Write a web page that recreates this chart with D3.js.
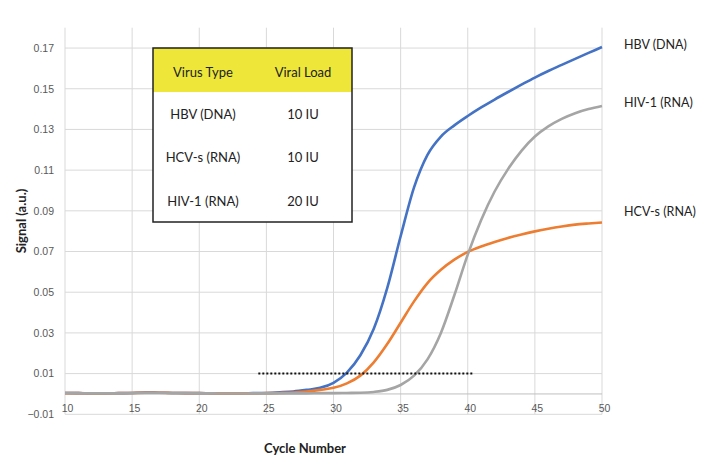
<!DOCTYPE html>
<html>
<head>
<meta charset="utf-8">
<script src="https://cdn.jsdelivr.net/npm/d3@7"></script>
<style>
	body { margin: 0; background: #fff; }
	svg { display: block; font-family: Lato, "Open Sans", sans-serif; }
</style>
</head>
<body>
<div id="chart"></div>
<script>
// Cycle numbers (x) and signal per virus (y)
const cycles = d3.range(10, 51);

const hbvSignal = [
	0.0005, 0.0004, 0.0003, 0.0003, 0.0004, 0.0005, 0.0007, 0.0006, 0.0005, 0.0004,
	0.0004, 0.0003, 0.0003, 0.0003, 0.0004, 0.0005, 0.0008, 0.0012, 0.0020, 0.0030,
	0.0055, 0.0105, 0.0190, 0.0320, 0.0520, 0.0775, 0.1015, 0.1175, 0.1265, 0.1320,
	0.1366, 0.1408, 0.1447, 0.1484, 0.1520, 0.1555, 0.1587, 0.1617, 0.1647, 0.1676,
	0.1705
];
const hcvSignal = [
	0.0004, 0.0004, 0.0003, 0.0003, 0.0004, 0.0005, 0.0006, 0.0006, 0.0005, 0.0004,
	0.0004, 0.0003, 0.0003, 0.0003, 0.0003, 0.0004, 0.0005, 0.0007, 0.0012, 0.0020,
	0.0030, 0.0052, 0.0090, 0.0155, 0.0245, 0.0350, 0.0455, 0.0545, 0.0610, 0.0660,
	0.0698, 0.0725, 0.0747, 0.0767, 0.0784, 0.0799, 0.0812, 0.0823, 0.0832, 0.0838,
	0.0843
];
const hivSignal = [
	0.0005, 0.0004, 0.0003, 0.0003, 0.0003, 0.0004, 0.0005, 0.0005, 0.0004, 0.0004,
	0.0003, 0.0003, 0.0002, 0.0002, 0.0003, 0.0003, 0.0003, 0.0003, 0.0003, 0.0004,
	0.0004, 0.0005, 0.0006, 0.0010, 0.0020, 0.0044, 0.0090, 0.0170, 0.0300, 0.0485,
	0.0685, 0.0855, 0.0995, 0.1105, 0.1195, 0.1265, 0.1315, 0.1352, 0.1380, 0.1400,
	0.1415
];

const seriesNames = ["HBV (DNA)", "HCV-s (RNA)", "HIV-1 (RNA)"];
const seriesColors = ["#4472c4", "#ed7d31", "#a5a5a5"];

// threshold line (cycle range, signal level)
const thresholdCycles = [24.4, 40.4];
const thresholdValue = 0.01;

// axis ticks
const xTicks = [10, 15, 20, 25, 30, 35, 40, 45, 50];
const yTicks = [-0.01, 0.01, 0.03, 0.05, 0.07, 0.09, 0.11, 0.13, 0.15, 0.17];

// inset table
const tableHeader = ["Virus Type", "Viral Load"];
const tableRows = [
	["HBV (DNA)", "10 IU"],
	["HCV-s (RNA)", "10 IU"],
	["HIV-1 (RNA)", "20 IU"]
];

const width = 710, height = 473;

const svg = d3.select("#chart").append("svg")
	.attr("width", width)
	.attr("height", height);

const x = d3.scaleLinear().domain([10, 50]).range([65, 602]);
const y = d3.scaleLinear().domain([-0.01, 0.18]).range([414.3, 27.7]);

// Gridlines
svg.append("g")
	.selectAll("line")
	.data(xTicks)
	.join("line")
	.attr("x1", d => x(d)).attr("x2", d => x(d))
	.attr("y1", y(0.18)).attr("y2", y(-0.01))
	.attr("stroke", "#d9d9d9")
	.attr("stroke-width", 1);

svg.append("g")
	.selectAll("line")
	.data(yTicks)
	.join("line")
	.attr("x1", x(10)).attr("x2", x(50))
	.attr("y1", d => y(d)).attr("y2", d => y(d))
	.attr("stroke", "#d9d9d9")
	.attr("stroke-width", 1);

// zero line
svg.append("line")
	.attr("x1", x(10)).attr("x2", x(50))
	.attr("y1", y(0)).attr("y2", y(0))
	.attr("stroke", "#bfbfbf")
	.attr("stroke-width", 1);

// Axes (labels only, Excel style)
const yAxis = svg.append("g")
	.attr("transform", `translate(${x(10) - 8},0)`)
	.call(d3.axisLeft(y).tickValues(yTicks).tickSize(0).tickFormat(d3.format(".2f")));
yAxis.select(".domain").remove();
yAxis.selectAll("text")
	.attr("fill", "#595959")
	.style("font-size", "10.5px");

const xAxis = svg.append("g")
	.attr("transform", `translate(2,${y(0) + 8})`)
	.call(d3.axisBottom(x).tickValues(xTicks).tickSize(0));
xAxis.select(".domain").remove();
xAxis.selectAll("text")
	.attr("fill", "#595959")
	.style("font-size", "10.5px");

// Curves
const line = d3.line()
	.x((d, i) => x(cycles[i]))
	.y(d => y(d))
	.curve(d3.curveMonotoneX);

svg.append("g")
	.selectAll("path")
	.data([hbvSignal, hcvSignal, hivSignal])
	.join("path")
	.attr("d", line)
	.attr("fill", "none")
	.attr("stroke", (d, i) => seriesColors[i])
	.attr("stroke-width", 2.6)
	.attr("stroke-linejoin", "round");

// Threshold
svg.append("line")
	.attr("x1", x(thresholdCycles[0])).attr("x2", x(thresholdCycles[1]))
	.attr("y1", y(thresholdValue)).attr("y2", y(thresholdValue))
	.attr("stroke", "#111")
	.attr("stroke-width", 2)
	.attr("stroke-dasharray", "2,2");

// Series labels at right
const labelY = { "HBV (DNA)": hbvSignal, "HCV-s (RNA)": hcvSignal, "HIV-1 (RNA)": hivSignal };
const labelOffset = [-2, -11, -3];
svg.append("g")
	.selectAll("text")
	.data(seriesNames)
	.join("text")
	.attr("x", x(50) + 22)
	.attr("y", (d, i) => y(labelY[d][labelY[d].length - 1]) + labelOffset[i])
	.attr("dy", "0.35em")
	.attr("fill", "#222")
	.style("font-size", "12.5px")
	.text(d => d);

// Inset table
const tbl = svg.append("g").attr("transform", "translate(153,48)");
const tblW = 199, tblH = 174, headH = 44;
const colX = [50, 150];

tbl.append("rect")
	.attr("width", tblW).attr("height", tblH)
	.attr("fill", "#fff");
tbl.append("rect")
	.attr("width", tblW).attr("height", headH)
	.attr("fill", "#eee73a");
tbl.append("rect")
	.attr("width", tblW).attr("height", tblH)
	.attr("fill", "none")
	.attr("stroke", "#222")
	.attr("stroke-width", 1.5);

tbl.selectAll(".head")
	.data(tableHeader)
	.join("text")
	.attr("class", "head")
	.attr("x", (d, i) => colX[i])
	.attr("y", 24)
	.attr("dy", "0.35em")
	.attr("text-anchor", "middle")
	.attr("fill", "#222")
	.style("font-size", "13px")
	.text(d => d);

tableRows.forEach((row, r) => {
	tbl.selectAll(".row" + r)
		.data(row)
		.join("text")
		.attr("class", "row" + r)
		.attr("x", (d, i) => colX[i])
		.attr("y", 66 + r * 43.5)
		.attr("dy", "0.35em")
		.attr("text-anchor", "middle")
		.attr("fill", "#222")
		.style("font-size", "13px")
		.text(d => d);
});

// Axis titles
svg.append("text")
	.attr("transform", "translate(26,221) rotate(-90)")
	.attr("text-anchor", "middle")
	.attr("fill", "#222")
	.style("font-size", "13px")
	.style("font-weight", "bold")
	.text("Signal (a.u.)");

svg.append("text")
	.attr("x", 305)
	.attr("y", 453)
	.attr("text-anchor", "middle")
	.attr("fill", "#222")
	.style("font-size", "13px")
	.style("font-weight", "bold")
	.text("Cycle Number");
</script>
</body>
</html>
